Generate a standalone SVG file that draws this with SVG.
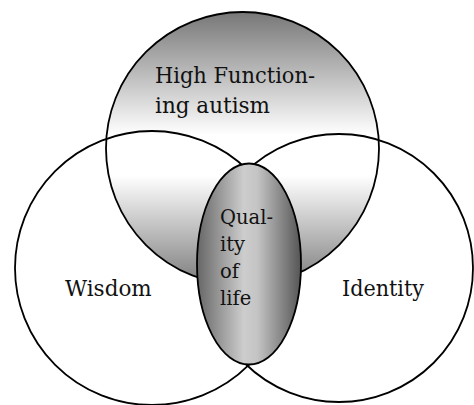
<svg xmlns="http://www.w3.org/2000/svg" width="474" height="405" viewBox="0 0 474 405">
  <style>
    .outline { fill: none; stroke: #000; stroke-width: 1.8; }
    text { font-family: 'DejaVu Serif', 'Liberation Serif', serif; fill: #111; }
    .big { font-size: 21.5px; }
    .small { font-size: 19.5px; }
  </style>
  <defs>
    <linearGradient id="topGrad" x1="0" y1="0" x2="0" y2="1">
      <stop offset="0" stop-color="#777"/>
      <stop offset="0.45" stop-color="#fff"/>
      <stop offset="0.6" stop-color="#fff"/>
      <stop offset="1" stop-color="#7c7c7c"/>
    </linearGradient>
    <linearGradient id="ellGrad" x1="0" y1="0" x2="1" y2="0">
      <stop offset="0" stop-color="#666"/>
      <stop offset="0.45" stop-color="#cdcdcd"/>
      <stop offset="0.58" stop-color="#c4c4c4"/>
      <stop offset="1" stop-color="#555"/>
    </linearGradient>
  </defs>
  <rect x="0" y="0" width="474" height="405" fill="#fff"/>
  <g id="hfa">
    <circle cx="242.5" cy="148.5" r="136.5" fill="url(#topGrad)" stroke="#000" stroke-width="1.8"/>
    <text class="big" x="155" y="83" textLength="160" lengthAdjust="spacingAndGlyphs">High Function-</text>
    <text class="big" x="155" y="113">ing autism</text>
  </g>
  <g id="wisdom">
    <circle class="outline" cx="152" cy="268" r="137"/>
    <text class="big" x="65" y="296">Wisdom</text>
  </g>
  <g id="identity">
    <circle class="outline" cx="339" cy="268" r="134"/>
    <text class="big" x="342" y="296" textLength="82" lengthAdjust="spacingAndGlyphs">Identity</text>
  </g>
  <g id="qol">
    <ellipse cx="249" cy="264" rx="52" ry="100.5" fill="url(#ellGrad)" stroke="#000" stroke-width="1.8"/>
    <text class="small" x="220" y="224">Qual-</text>
    <text class="small" x="220" y="251">ity</text>
    <text class="small" x="220" y="278">of</text>
    <text class="small" x="220" y="305">life</text>
  </g>
  <g id="connectors"/>
</svg>
